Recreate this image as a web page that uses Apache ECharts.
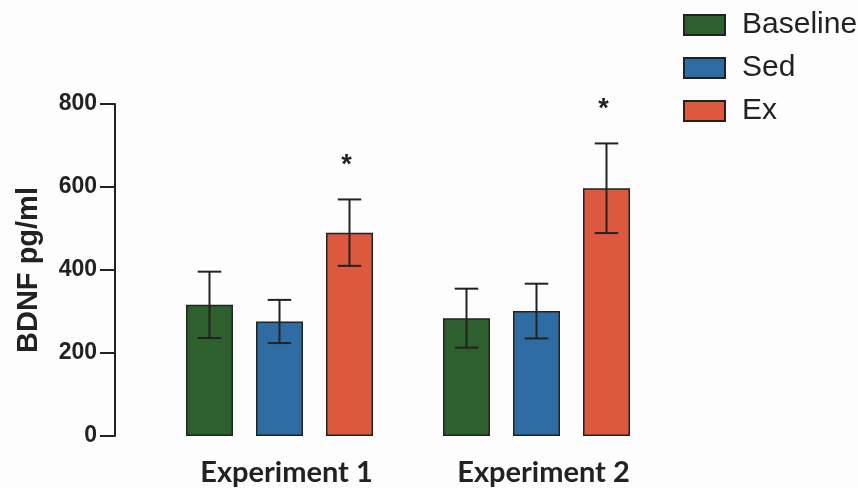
<!DOCTYPE html>
<html>
<head>
<meta charset="utf-8">
<script src="https://cdn.jsdelivr.net/npm/echarts@6/dist/echarts.min.js"></script>
<style>
  html, body { margin: 0; padding: 0; background: #fdfdfd; }
  #chart { width: 858px; height: 488px; }
</style>
</head>
<body>
<div id="chart"></div>
<script>
// Serum BDNF (pg/ml), mean ± SEM per group
const categories = ['Experiment 1', 'Experiment 2'];
const groupNames = ['Baseline', 'Sed', 'Ex'];
const baselineMean = [316, 284];
const sedMean = [276, 301];
const exMean = [490, 597];
const baselineErr = [80, 71];
const sedErr = [52, 66];
const exErr = [80, 108];
const exSignificance = ['*', '*'];
const yTicks = [0, 200, 400, 600, 800];

const colors = ['#2d602c', '#2e6ca3', '#dc593d'];
const BAR_W = 47;
const BAR_GAP = 23;
const INK = '#222222';

const means = [baselineMean, sedMean, exMean];
const errs = [baselineErr, sedErr, exErr];
const marks = [null, null, exSignificance];

const barSeries = groupNames.map((name, k) => ({
  name: name,
  type: 'bar',
  data: means[k],
  barWidth: BAR_W,
  barGap: (BAR_GAP / BAR_W * 100) + '%',
  itemStyle: { color: colors[k], borderColor: INK, borderWidth: 1.5 },
  emphasis: { disabled: true },
  z: 2
}));

const errorSeries = groupNames.map((name, k) => ({
  type: 'custom',
  name: name + ' SEM',
  z: 5,
  silent: true,
  data: means[k].map((m, i) => [i, m, errs[k][i]]),
  renderItem: function (params, api) {
    const i = api.value(0);
    const m = api.value(1);
    const e = api.value(2);
    const dx = (k - 1) * (BAR_W + BAR_GAP);
    const top = api.coord([i, m + e]);
    const bot = api.coord([i, m - e]);
    const x = top[0] + dx;
    const cap = BAR_W / 4;
    const style = { stroke: INK, lineWidth: 2 };
    const children = [
      { type: 'line', shape: { x1: x, y1: top[1], x2: x, y2: bot[1] }, style: style },
      { type: 'line', shape: { x1: x - cap, y1: top[1], x2: x + cap, y2: top[1] }, style: style },
      { type: 'line', shape: { x1: x - cap, y1: bot[1], x2: x + cap, y2: bot[1] }, style: style }
    ];
    if (marks[k] && marks[k][i]) {
      children.push({
        type: 'text',
        style: {
          x: x - 3, y: top[1] - 34,
          text: marks[k][i],
          fill: INK,
          font: 'bold 27px "Liberation Sans", Arial, sans-serif',
          align: 'center', verticalAlign: 'middle'
        }
      });
    }
    return { type: 'group', children: children };
  }
}));

const chart = echarts.init(document.getElementById('chart'), null, { renderer: 'canvas' });
chart.setOption({
  animation: false,
  backgroundColor: '#fdfdfd',
  grid: { left: 151, right: 193, top: 104, bottom: 52 },
  legend: {
    data: groupNames,
    orient: 'vertical',
    left: 678,
    top: 5,
    itemWidth: 41,
    itemHeight: 20,
    itemGap: 13,
    icon: 'rect',
    textStyle: {
      fontFamily: '"Liberation Sans", Arial, sans-serif',
      fontSize: 30,
      lineHeight: 30,
      color: INK,
      padding: [0, 0, 0, 12]
    }
  },
  xAxis: {
    type: 'category',
    data: categories,
    axisLine: { show: false },
    axisTick: { show: false },
    axisLabel: {
      margin: 22,
      padding: [0, 0, 0, 14],
      fontFamily: 'Lato, "Open Sans", sans-serif',
      fontWeight: 'bold',
      fontSize: 29,
      color: INK
    }
  },
  yAxis: {
    type: 'value',
    min: 0,
    max: yTicks[yTicks.length - 1],
    interval: yTicks[1] - yTicks[0],
    offset: 36,
    name: 'BDNF pg/ml',
    nameLocation: 'middle',
    nameGap: 72,
    nameRotate: 90,
    nameTextStyle: {
      fontFamily: '"Liberation Sans", Arial, sans-serif',
      fontWeight: 'bold',
      fontSize: 29,
      color: INK
    },
    axisLine: { show: true, lineStyle: { color: INK, width: 2 } },
    axisTick: { show: true, inside: false, length: 15, lineStyle: { color: INK, width: 2 } },
    splitLine: { show: false },
    axisLabel: {
      margin: 18,
      fontFamily: '"Liberation Sans", Arial, sans-serif',
      fontWeight: 'bold',
      fontSize: 23,
      color: INK
    }
  },
  series: barSeries.concat(errorSeries)
});
</script>
</body>
</html>
